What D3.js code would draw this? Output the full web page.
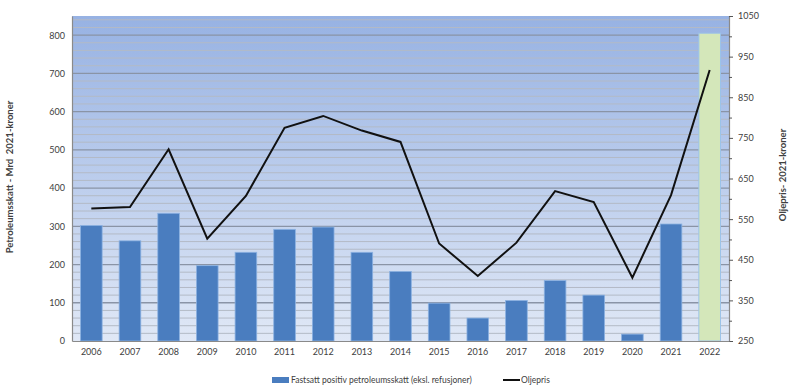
<!doctype html>
<html lang="no">
<head>
<meta charset="utf-8" />
<title>Petroleumsskatt og oljepris</title>
<script src="https://cdn.jsdelivr.net/npm/d3@7"></script>
<style>
  body { margin: 0; background: #fff; }
  text { font-family: Lato, "Liberation Sans", sans-serif; fill: #404040; white-space: pre; }
</style>
</head>
<body>
<script>
// data
var years = ["2006","2007","2008","2009","2010","2011","2012","2013","2014","2015","2016","2017","2018","2019","2020","2021","2022"];
var skatt = [302, 262, 334, 197, 232, 292, 298, 232, 182, 99, 60, 106, 158, 120, 18, 306, null];
var skatt2022 = 805;
var oljepris = [576, 580, 722, 502, 607, 775, 804, 768, 740, 490, 410, 492, 619, 592, 406, 609, 917];
var leftTicks = [0, 100, 200, 300, 400, 500, 600, 700, 800];
var rightTicks = [250, 350, 450, 550, 650, 750, 850, 950, 1050];

var W = 792, H = 390;
var plotL = 72, plotR = 729, plotT = 16, plotB = 341;

var svg = d3.select("body").append("svg")
  .attr("width", W).attr("height", H);

var x = d3.scaleBand().domain(years).range([plotL, plotR]).paddingInner(0.44).paddingOuter(0.22);
var yL = d3.scaleLinear().domain([0, 850]).range([plotB, plotT]);
var yR = d3.scaleLinear().domain([250, 1050]).range([plotB, plotT]);

// background gradient
var grad = svg.append("defs").append("linearGradient")
  .attr("id", "bg").attr("x1", 0).attr("y1", 0).attr("x2", 0).attr("y2", 1);
grad.append("stop").attr("offset", "0%").attr("stop-color", "#97b2e3");
grad.append("stop").attr("offset", "100%").attr("stop-color", "#e0e8f6");

svg.append("rect")
  .attr("x", plotL).attr("y", plotT)
  .attr("width", plotR - plotL).attr("height", plotB - plotT)
  .attr("fill", "url(#bg)");

// grid: minor every 20, major every 100
svg.append("g").selectAll("line")
  .data(d3.range(20, 851, 20))
  .enter().append("line")
  .attr("x1", plotL).attr("x2", plotR)
  .attr("y1", function(d) { return yL(d); })
  .attr("y2", function(d) { return yL(d); })
  .attr("stroke", function(d) { return d % 100 == 0 ? "#8a94a6" : "#b3bac6"; })
  .attr("stroke-width", function(d) { return d % 100 == 0 ? 1.3 : 1; });

// bars
svg.append("g").selectAll("rect")
  .data(years.filter(function(d, i) { return skatt[i] != null; }))
  .enter().append("rect")
  .attr("x", function(d) { return x(d); })
  .attr("width", x.bandwidth())
  .attr("y", function(d) { return yL(skatt[years.indexOf(d)]); })
  .attr("height", function(d) { return plotB - yL(skatt[years.indexOf(d)]); })
  .attr("fill", "#4a7dbf")
  .attr("stroke", "#8cb2e2")
  .attr("stroke-width", 0.8);

svg.append("rect")
  .attr("x", x("2022")).attr("width", x.bandwidth())
  .attr("y", yL(skatt2022)).attr("height", plotB - yL(skatt2022))
  .attr("fill", "#d4e7ba")
  .attr("stroke", "#9cc3e8")
  .attr("stroke-width", 1);

// oil price line
var line = d3.line()
  .x(function(d, i) { return x(years[i]) + x.bandwidth() / 2; })
  .y(function(d) { return yR(d); });

svg.append("path")
  .datum(oljepris)
  .attr("d", line)
  .attr("fill", "none")
  .attr("stroke", "#111")
  .attr("stroke-width", 2);

// axes
var axL = svg.append("g").attr("transform", "translate(" + plotL + ",0)")
  .call(d3.axisLeft(yL).tickValues(leftTicks).tickSize(0).tickPadding(7).tickFormat(d3.format("d")));
var axR = svg.append("g").attr("transform", "translate(" + plotR + ",0)")
  .call(d3.axisRight(yR).tickValues(rightTicks).tickSize(4).tickPadding(5).tickFormat(d3.format("d")));
var axB = svg.append("g").attr("transform", "translate(0," + plotB + ")")
  .call(d3.axisBottom(x).tickSize(0).tickPadding(8));

svg.append("g").attr("transform", "translate(" + plotR + ",0)")
  .call(d3.axisRight(yR).tickValues(d3.range(300, 1050, 100)).tickSize(3).tickFormat(""))
  .select(".domain").remove();

[axL, axR, axB].forEach(function(a) {
  a.selectAll("text").attr("font-size", "9px").attr("fill", "#404040")
    .style("font-family", "Lato, 'Liberation Sans', sans-serif");
  a.select(".domain").attr("stroke", "#8a8a8a").attr("stroke-width", 1.2);
});
svg.selectAll(".tick line").attr("stroke", "#555");

// axis titles
svg.append("text")
  .attr("transform", "translate(13,177) rotate(-90)")
  .attr("text-anchor", "middle")
  .attr("font-size", "9.5px").attr("font-weight", "bold").attr("fill", "#222")
  .text("Petroleumsskatt - Mrd  2021-kroner");

svg.append("text")
  .attr("transform", "translate(786,175) rotate(-90)")
  .attr("text-anchor", "middle")
  .attr("font-size", "9.5px").attr("font-weight", "bold").attr("fill", "#222")
  .text("Oljepris- 2021-kroner");

// legend
var lg = svg.append("g");
lg.append("rect").attr("x", 272).attr("y", 377).attr("width", 17).attr("height", 6).attr("fill", "#4a7dbf");
lg.append("text").attr("x", 291).attr("y", 383).attr("font-size", "8.5px").attr("fill", "#333")
  .text("Fastsatt positiv petroleumsskatt (eksl. refusjoner)");
lg.append("line").attr("x1", 503).attr("x2", 520).attr("y1", 380).attr("y2", 380)
  .attr("stroke", "#111").attr("stroke-width", 2);
lg.append("text").attr("x", 521).attr("y", 383).attr("font-size", "8.5px").attr("fill", "#333")
  .text("Oljepris");
</script>
</body>
</html>
